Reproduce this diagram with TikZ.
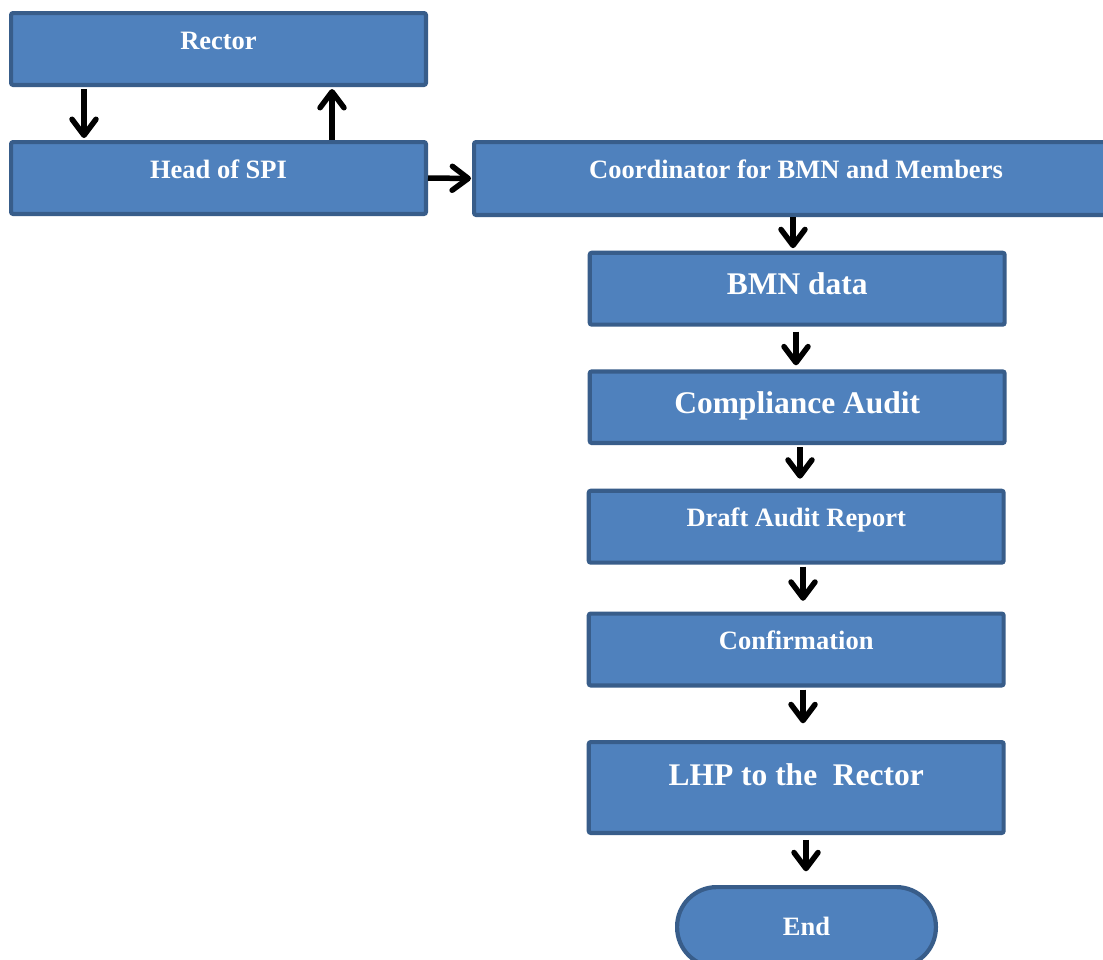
\documentclass[tikz,border=0pt]{standalone}
\usepackage{fontspec}
\setmainfont{Liberation Serif}
\usetikzlibrary{arrows.meta}
\definecolor{boxfill}{HTML}{4F81BD}
\definecolor{boxline}{HTML}{385D8A}
\begin{document}
\begin{tikzpicture}[x=1pt,y=-1pt,
  stepbox/.style={draw=boxline, fill=boxfill, line width=4.2pt, rounded corners=2pt,
    inner sep=0pt, text=white, font=\bfseries\fontsize{26.5}{30}\selectfont,
    minimum width=414.8pt, minimum height=71.8pt, text height=10pt, text depth=10pt},
  bigtext/.style={font=\bfseries\fontsize{31.5}{36}\selectfont, text height=22pt, text depth=10pt},
  flow/.style={line width=5.5pt, -{Straight Barb[length=16pt,width=24pt,round]}},
]
\useasboundingbox[fill=white] (0,0) rectangle (1103,959);

% boxes
\node[stepbox] (rector) at (218.5,49) {Rector};
\node[stepbox] (head) at (218.5,178) {Head of SPI};
\node[stepbox, minimum width=643.8pt, minimum height=72.8pt] (coord) at (796,178.5) {Coordinator for BMN and Members};
\node[stepbox, bigtext] (bmn) at (797.2,288.7) {BMN data};
\node[stepbox, bigtext, minimum height=71.5pt] (audit) at (797.2,407.2) {Compliance Audit};
\node[stepbox] (draft) at (796.2,526.7) {Draft Audit Report};
\node[stepbox] (confirm) at (796.2,649.5) {Confirmation};
\node[stepbox, bigtext, minimum height=90.8pt, text height=20pt, text depth=25pt] (lhp) at (796.2,787.5) {LHP to the\ \ Rector};
\node[stepbox, minimum width=258.8pt, minimum height=79.8pt, rounded corners=39.5pt,
      text height=24pt, text depth=8pt] (end) at (806.5,927) {End};

% connectors
\draw[flow, shorten <=1.75pt, shorten >=2pt] ([xshift=-134.5pt]rector.south) -- ([xshift=-134.5pt]head.north);
\draw[flow, shorten >=2pt] ([xshift=113.5pt]head.north) -- ([xshift=113.5pt]rector.south);
\draw[flow, shorten >=1pt] (head.east) -- (coord.west);
\draw[flow, shorten >=2.5pt] ([xshift=-3pt]coord.south) -- ([xshift=-4.2pt]bmn.north);
\draw[flow, shorten <=5pt, shorten >=4pt] ([xshift=-1.2pt]bmn.south) -- ([xshift=-1.2pt]audit.north);
\draw[flow, shorten <=2pt, shorten >=10pt] ([xshift=2.8pt]audit.south) -- ([xshift=3.8pt]draft.north);
\draw[flow, shorten <=2pt, shorten >=10.75pt] ([xshift=6.8pt]draft.south) -- ([xshift=6.8pt]confirm.north);
\draw[flow, shorten <=2pt, shorten >=16.75pt] ([xshift=6.8pt]confirm.south) -- ([xshift=6.8pt]lhp.north);
\draw[flow, shorten <=4.75pt, shorten >=13.75pt] ([xshift=9.8pt]lhp.south) -- ([xshift=-0.5pt]end.north);
\end{tikzpicture}
\end{document}
